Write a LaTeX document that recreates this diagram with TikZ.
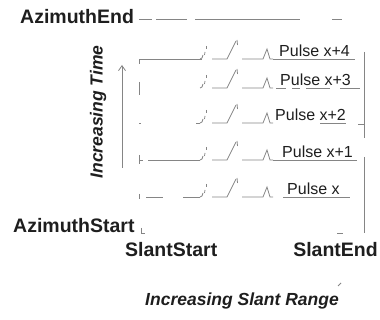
\documentclass[tikz,border=0pt]{standalone}
\usepackage{fontspec}
\setmainfont{Liberation Sans}
\usetikzlibrary{arrows.meta}
\definecolor{ink}{HTML}{1E1E1E}
\definecolor{tracegray}{HTML}{858585}
\begin{document}
\begin{tikzpicture}[x=1pt,y=-1pt,
  lbl/.style={font=\fontsize{19.5}{22}\selectfont\bfseries, text=ink, inner sep=0pt},
  axislbl/.style={font=\fontsize{17.5}{20}\selectfont\bfseries\itshape, text=ink, inner sep=0pt},
  pulselbl/.style={font=\fontsize{16}{18}\selectfont, text=ink, inner sep=0pt, anchor=base west},
  trace/.style={draw=tracegray, line width=0.8pt},
  edge/.style={draw=tracegray, line width=1pt},
  pics/chirp/.style={code={
    % falling hook, short marks, rising ramp and the echo peak
    \draw[trace] (62,0) -- (64,-1) -- (65,-4);
    \draw[trace] (68,-13) -- (68,-10);
    \draw[trace] (67,-7) -- (66.5,-4);
    \draw[trace] (74,0) -- (89,0) -- (98,-18);
    \draw[trace] (99,-19) -- (99.5,-14);
    \draw[trace] (104,0) -- (125,0) -- (129,-10) -- (132,0) -- (135,0);
  }},
]
\useasboundingbox (0,0) rectangle (380,320);

% axis labels
\node[lbl, anchor=west] (azend) at (20,17) {AzimuthEnd};
\node[lbl, anchor=west] (azstart) at (13,226) {AzimuthStart};
\node[lbl, anchor=west] (slstart) at (125,250) {SlantStart};
\node[lbl, anchor=east] (slend) at (378,250) {SlantEnd};
\node[axislbl] (slrange) at (242,301) {Increasing Slant Range};
\node[axislbl, rotate=90] (timelbl) at (98,112) {Increasing Time};

% time arrow
\coordinate (tfoot) at (122,168);
\coordinate (thead) at (122,65);
\draw[trace, -{Straight Barb[length=5pt,width=7pt]}] (tfoot) -- (thead);

% frame: top edge, right edge, corner marks
\draw[edge] (139,20) -- (152,20);
\draw[edge] (156,20) -- (187,20);
\draw[edge] (195,20) -- (300,20);
\draw[edge] (332,20) -- (342,20);
\draw[edge] (364,52) -- (364,138);
\draw[edge] (364,157) -- (364,233);
\draw[trace] (141,228) -- (141,233) -- (145,233);
\draw[trace] (337,233) -- (343,233);
\draw[trace] (338,286) -- (341,283);

% pulse traces
\pic at (138,59) {chirp};
\pic at (138,88) {chirp};
\pic at (138,123) {chirp};
\pic at (138,160) {chirp};
\pic at (138,197) {chirp};

% leading baselines
\draw[trace] (139,64) -- (139,59) -- (202,59);
\draw[trace] (139,82) -- (139,95);
\draw[trace] (139,123) -- (141,123);
\draw[trace] (196,123) -- (200,123);
\draw[trace] (139,155) -- (139,164);
\draw[trace] (139,160) -- (143,160);
\draw[trace] (148,160) -- (200,160);
\draw[trace] (139,194) -- (139,199);
\draw[trace] (146,197) -- (163,197);
\draw[trace] (183,197) -- (200,197);

% pulse labels and their underlines
\node[pulselbl] (p4) at (279,57) {Pulse x+4};
\node[pulselbl] (p3) at (280,86) {Pulse x+3};
\node[pulselbl] (p2) at (275,121) {Pulse x+2};
\node[pulselbl] (p1) at (282,158) {Pulse x+1};
\node[pulselbl] (p0) at (287,195) {Pulse x};

\draw[trace] (273,59) -- (355,59);
\draw[trace] (276,88) -- (286,88);
\draw[trace] (292,88) -- (300,88);
\draw[trace] (306,88) -- (330,88);
\draw[trace] (340,88) -- (360,88);
\draw[trace] (320,123) -- (346,123);
\draw[trace] (358,124) -- (364,124);
\draw[trace] (273,160) -- (357,160);
\draw[trace] (283,197) -- (350,197);
\end{tikzpicture}
\end{document}
